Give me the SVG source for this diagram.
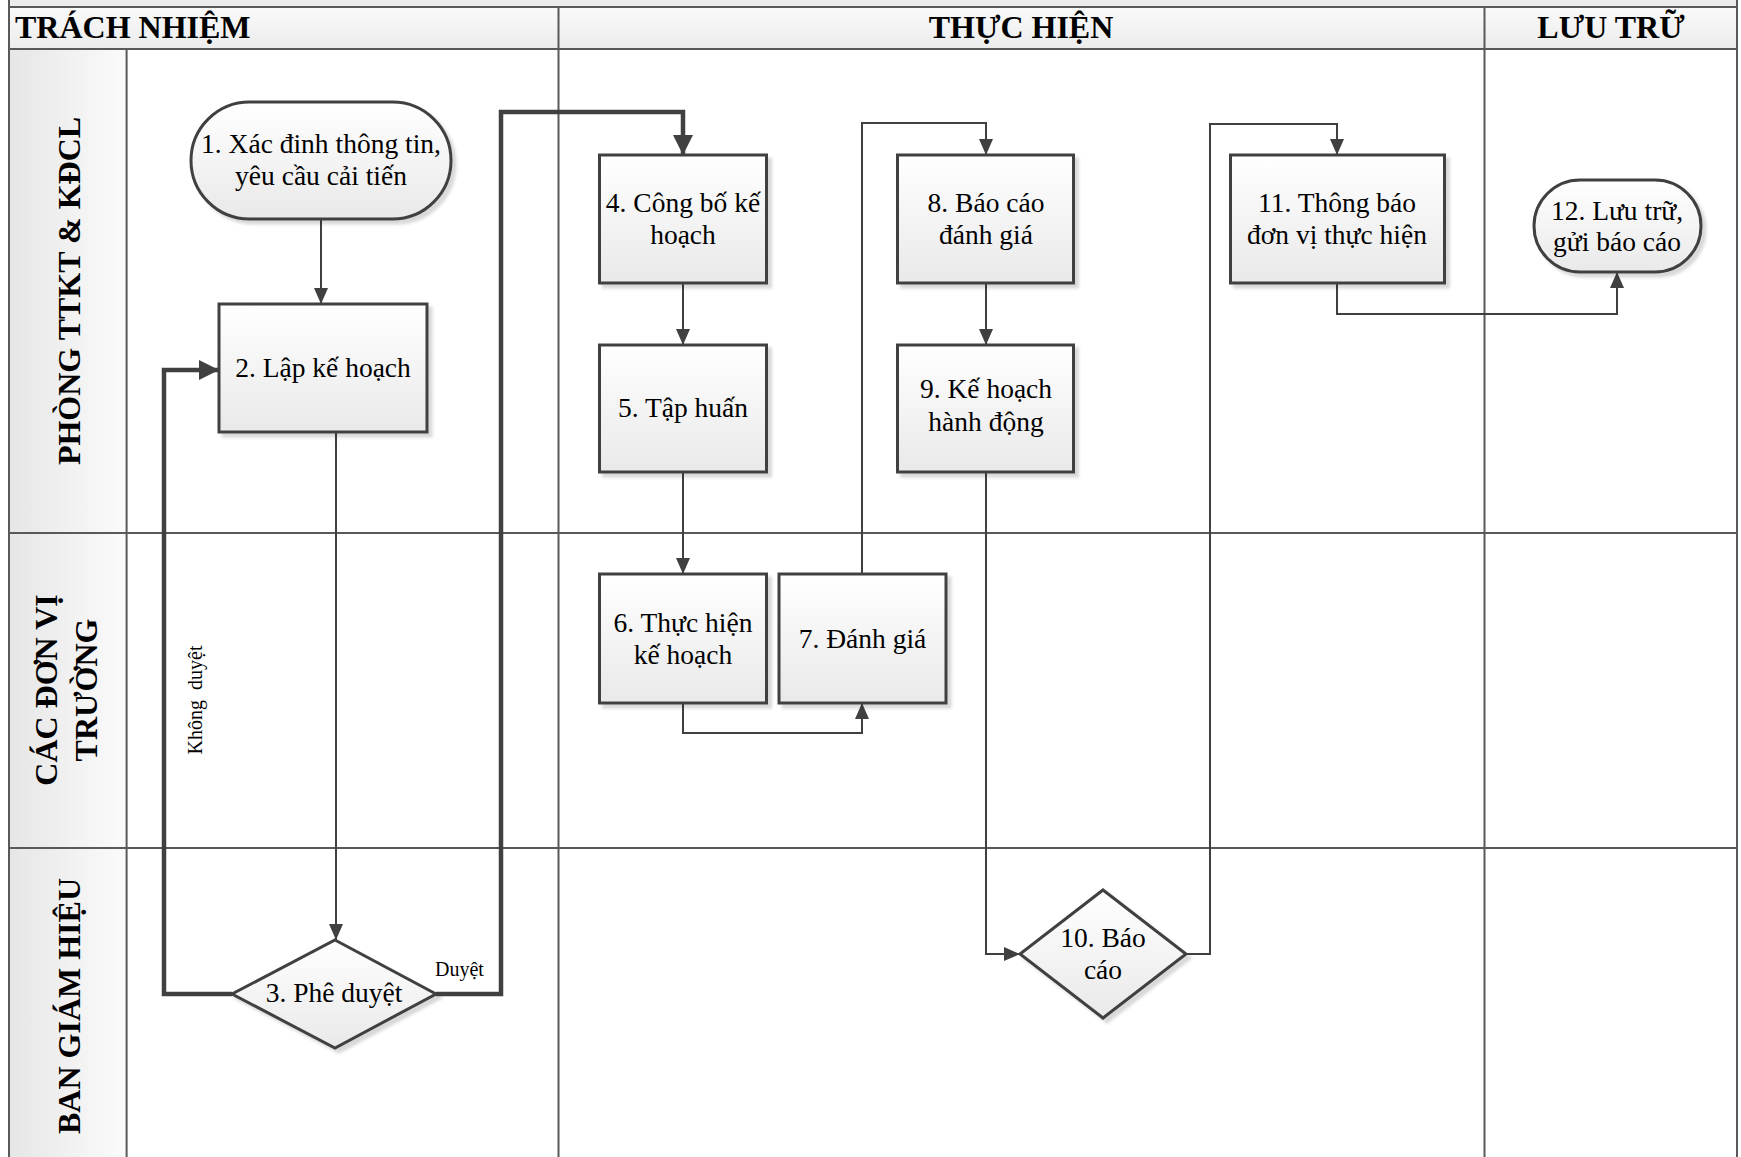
<svg xmlns="http://www.w3.org/2000/svg" width="1741" height="1157" viewBox="0 0 1741 1157">
<defs>
<linearGradient id="gNode" x1="0" y1="0" x2="0" y2="1">
<stop offset="0" stop-color="#ffffff"/>
<stop offset="1" stop-color="#e9e9e9"/>
</linearGradient>
<linearGradient id="gLane" x1="0" y1="0" x2="1" y2="0">
<stop offset="0" stop-color="#e6e6e6"/>
<stop offset="1" stop-color="#fbfbfb"/>
</linearGradient>
<linearGradient id="gHead" x1="0" y1="0" x2="0" y2="1">
<stop offset="0" stop-color="#fafafa"/>
<stop offset="1" stop-color="#ececec"/>
</linearGradient>
<marker id="arr" markerUnits="userSpaceOnUse" markerWidth="16" markerHeight="14" refX="16" refY="7" orient="auto">
<path d="M0,0 L16,7 L0,14 z" fill="#404040"/>
</marker>
<marker id="arrT" markerUnits="userSpaceOnUse" markerWidth="20" markerHeight="20" refX="20" refY="10" orient="auto">
<path d="M0,0 L20,10 L0,20 z" fill="#404040"/>
</marker>
<filter id="sh" x="-10%" y="-10%" width="130%" height="130%">
<feOffset in="SourceAlpha" dx="4" dy="4" result="o"/>
<feGaussianBlur in="o" stdDeviation="1.5" result="b"/>
<feFlood flood-color="#000" flood-opacity="0.15"/>
<feComposite in2="b" operator="in" result="s"/>
<feMerge><feMergeNode in="s"/><feMergeNode in="SourceGraphic"/></feMerge>
</filter>
</defs>
<style>
.grid{stroke:#595959;stroke-width:2;fill:none}
.node{fill:url(#gNode);stroke:#404040;stroke-width:3;filter:url(#sh)}
.t{font-family:"Liberation Serif","Times New Roman",serif;font-size:27.5px;fill:#000;text-anchor:middle}
.hdr{font-family:"Liberation Serif","Times New Roman",serif;font-size:32px;font-weight:bold;fill:#000}
.lane{font-family:"Liberation Serif","Times New Roman",serif;font-size:32px;font-weight:bold;fill:#000;text-anchor:middle}
.lbl{font-family:"Liberation Serif","Times New Roman",serif;font-size:20px;fill:#000}
.c{stroke:#404040;stroke-width:2;fill:none;marker-end:url(#arr)}
.ct{stroke:#404040;stroke-width:4.5;fill:none;marker-end:url(#arrT)}
</style>
<rect width="1741" height="1157" fill="#ffffff"/>

<g id="swimlanes">
<rect x="9" y="0" width="1728" height="7" fill="#ececec"/>
<rect x="9" y="7" width="1728" height="42" fill="url(#gHead)"/>
<rect x="9" y="49" width="117.6" height="1110" fill="url(#gLane)"/>
<path class="grid" d="M9,7 H1737 M9,49 H1737 M9,533 H1737 M9,848 H1737 M9,0 V1157 M1737,0 V1157 M126.6,49 V1157 M558.5,7 V1157 M1484.5,7 V1157"/>
<text class="hdr" x="15" y="38">TRÁCH NHIỆM</text>
<text class="hdr" x="1021" y="38" text-anchor="middle">THỰC HIỆN</text>
<text class="hdr" x="1611" y="38" text-anchor="middle">LƯU TRỮ</text>
<text class="lane" transform="translate(80,291) rotate(-90)">PHÒNG TTKT &amp; KĐCL</text>
<text class="lane" transform="translate(57,690) rotate(-90)">CÁC ĐƠN VỊ</text>
<text class="lane" transform="translate(97,690) rotate(-90)">TRƯỜNG</text>
<text class="lane" transform="translate(80,1006) rotate(-90)">BAN GIÁM HIỆU</text>
</g>

<g id="connectors">
<path class="c" d="M321,219 V304"/>
<path class="c" d="M336,432 V940"/>
<path class="ct" d="M232,994 H164 V370 H219"/>
<path class="ct" d="M436,994 H501 V112 H683 V155"/>
<path class="c" d="M683,283 V345"/>
<path class="c" d="M683,472 V574"/>
<path class="c" d="M683,703 V733 H862 V703"/>
<path class="c" d="M862,574 V123 H986 V155"/>
<path class="c" d="M986,283 V345"/>
<path class="c" d="M986,472 V954 H1020"/>
<path class="c" d="M1186,954 H1210 V124 H1337 V155"/>
<path class="c" d="M1337,283 V314 H1617 V272"/>
<text class="lbl" x="435" y="976">Duyệt</text>
<text class="lbl" transform="translate(202,700) rotate(-90)" text-anchor="middle" xml:space="preserve">Không  duyệt</text>
</g>

<g id="n1">
<rect class="node" x="191" y="102" width="260" height="117" rx="58.5" ry="58.5"/>
<text class="t" x="321" y="153">1. Xác đinh thông tin,</text>
<text class="t" x="321" y="185">yêu cầu cải tiến</text>
</g>
<g id="n2">
<rect class="node" x="219" y="304" width="208" height="128"/>
<text class="t" x="323" y="377">2. Lập kế hoạch</text>
</g>
<g id="n3">
<polygon class="node" points="335,940 436,994 335,1048 232,994"/>
<text class="t" x="334" y="1002">3. Phê duyệt</text>
</g>
<g id="n4">
<rect class="node" x="599.5" y="155" width="167" height="128"/>
<text class="t" x="683" y="212">4. Công bố kế</text>
<text class="t" x="683" y="244">hoạch</text>
</g>
<g id="n5">
<rect class="node" x="599.5" y="345" width="167" height="127"/>
<text class="t" x="683" y="417">5. Tập huấn</text>
</g>
<g id="n6">
<rect class="node" x="599.5" y="574" width="167" height="129"/>
<text class="t" x="683" y="632">6. Thực hiện</text>
<text class="t" x="683" y="664">kế hoạch</text>
</g>
<g id="n7">
<rect class="node" x="779" y="574" width="167" height="129"/>
<text class="t" x="862.5" y="648">7. Đánh giá</text>
</g>
<g id="n8">
<rect class="node" x="897.5" y="155" width="176" height="128"/>
<text class="t" x="986" y="212">8. Báo cáo</text>
<text class="t" x="986" y="244">đánh giá</text>
</g>
<g id="n9">
<rect class="node" x="897.5" y="345" width="176" height="127"/>
<text class="t" x="986" y="398">9. Kế hoạch</text>
<text class="t" x="986" y="431">hành động</text>
</g>
<g id="n10">
<polygon class="node" points="1103,890 1186,954 1103,1018 1020,954"/>
<text class="t" x="1103" y="947">10. Báo</text>
<text class="t" x="1103" y="979">cáo</text>
</g>
<g id="n11">
<rect class="node" x="1230.5" y="155" width="214" height="128"/>
<text class="t" x="1337" y="212">11. Thông báo</text>
<text class="t" x="1337" y="244">đơn vị thực hiện</text>
</g>
<g id="n12">
<rect class="node" x="1534" y="180" width="167" height="92" rx="46" ry="46"/>
<text class="t" x="1617" y="220">12. Lưu trữ,</text>
<text class="t" x="1617" y="251">gửi báo cáo</text>
</g>
</svg>
